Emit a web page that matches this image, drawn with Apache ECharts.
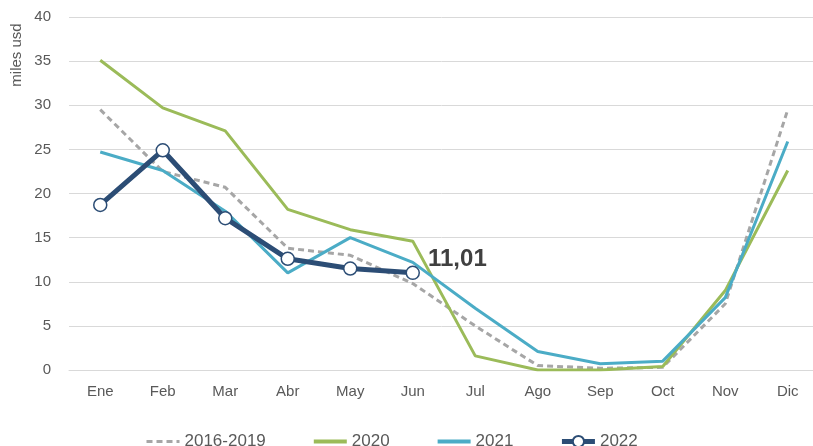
<!DOCTYPE html>
<html>
<head>
<meta charset="utf-8">
<script src="https://cdn.jsdelivr.net/npm/echarts@6/dist/echarts.min.js"></script>
<style>html,body{margin:0;padding:0;background:#fff}#c{width:813px;height:446px}</style>
</head>
<body>
<div id="c"></div>
<script>
const categories = ['Ene','Feb','Mar','Abr','May','Jun','Jul','Ago','Sep','Oct','Nov','Dic'];
const avg2016_2019 = [29.5, 22.5, 20.7, 13.8, 13.0, 9.8, 5.0, 0.5, 0.2, 0.3, 7.5, 29.5];
const y2020 = [35.1, 29.7, 27.1, 18.2, 15.9, 14.6, 1.6, 0.0, 0.0, 0.4, 9.0, 22.6];
const y2021 = [24.7, 22.6, 18.0, 11.0, 15.0, 12.2, 7.0, 2.1, 0.7, 1.0, 8.2, 25.9];
const y2022 = [18.7, 24.9, 17.2, 12.6, 11.5, 11.01];
const yTicks = {min: 0, max: 40, interval: 5};

const FONT = 'Liberation Sans, Arial, sans-serif';
const chart = echarts.init(document.getElementById('c'), null, {renderer: 'canvas'});
const lastIdx = y2022.length - 1;
chart.setOption({
  animation: false,
  textStyle: {fontFamily: FONT},
  grid: {left: 69, right: -6, top: 17, bottom: 76, containLabel: false, outerBoundsMode: 'none'},
  legend: {
    top: 428, left: 140, itemWidth: 33, itemHeight: 14, itemGap: 46,
    textStyle: {fontSize: 17, color: '#595959', fontFamily: FONT},
    data: [
      {name: '2016-2019', itemStyle: {opacity: 0}, lineStyle: {width: 3}},
      {name: '2020', itemStyle: {opacity: 0}, lineStyle: {width: 4}},
      {name: '2021', itemStyle: {opacity: 0}, lineStyle: {width: 4}},
      {name: '2022', lineStyle: {width: 5}}
    ]
  },
  graphic: [{
    type: 'text', x: 17, y: 55, rotation: Math.PI / 2,
    style: {text: 'miles usd', fontSize: 15, fill: '#595959', align: 'center', verticalAlign: 'middle',
      fontFamily: FONT}
  }],
  xAxis: {
    type: 'category', data: categories, boundaryGap: true,
    axisLine: {show: true, lineStyle: {color: '#D9D9D9', width: 1}},
    axisTick: {show: false},
    axisLabel: {fontSize: 15, color: '#595959', margin: 14}
  },
  yAxis: {
    type: 'value', min: yTicks.min, max: yTicks.max, interval: yTicks.interval,
    axisLine: {show: false}, axisTick: {show: false},
    axisLabel: {fontSize: 15, color: '#595959', margin: 18},
    splitLine: {lineStyle: {color: '#D9D9D9', width: 1}}
  },
  series: [
    {name: '2016-2019', type: 'line', data: avg2016_2019, symbol: 'none', showSymbol: false,
      lineStyle: {color: '#A6A6A6', width: 3, type: [6, 4]}, itemStyle: {color: '#A6A6A6'}, z: 2},
    {name: '2020', type: 'line', data: y2020, symbol: 'none', showSymbol: false,
      lineStyle: {color: '#9BBB59', width: 3}, itemStyle: {color: '#9BBB59'}, z: 3},
    {name: '2021', type: 'line', data: y2021, symbol: 'none', showSymbol: false,
      lineStyle: {color: '#4BACC6', width: 3}, itemStyle: {color: '#4BACC6'}, z: 4},
    {name: '2022', type: 'line', data: y2022.map((v, i) => i === lastIdx ? {
        value: v,
        label: {show: true, position: 'right', distance: 0, fontSize: 24, fontWeight: 'bold', color: '#404040',
          formatter: p => String(p.value).replace('.', ',')}
      } : v),
      labelLayout: {dx: 8, dy: -13},
      symbol: 'circle', symbolSize: 13, showSymbol: true,
      lineStyle: {color: '#2C4D75', width: 5},
      itemStyle: {color: '#FFFFFF', borderColor: '#2C4D75', borderWidth: 1.5}, z: 5}
  ]
});
</script>
</body>
</html>
